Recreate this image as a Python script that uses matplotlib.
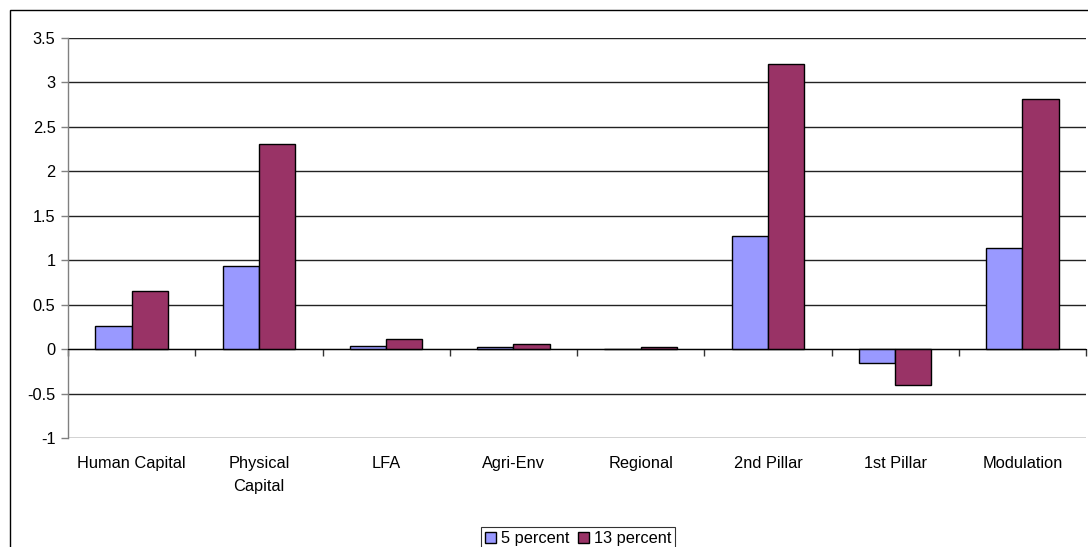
import matplotlib
matplotlib.use("Agg")
import matplotlib.pyplot as plt
from matplotlib.patches import Rectangle
import numpy as np

categories = ["Human Capital", "Physical\nCapital", "LFA", "Agri-Env", "Regional",
              "2nd Pillar", "1st Pillar", "Modulation"]
five_percent = [0.26, 0.93, 0.04, 0.02, 0.00, 1.27, -0.16, 1.14]
thirteen_percent = [0.65, 2.31, 0.11, 0.06, 0.02, 3.21, -0.40, 2.81]
series_labels = ["5 percent", "13 percent"]
y_ticks = [-1, -0.5, 0, 0.5, 1, 1.5, 2, 2.5, 3, 3.5]
y_ticklabels = ["-1", "-0.5", "0", "0.5", "1", "1.5", "2", "2.5", "3", "3.5"]

plt.rcParams["font.family"] = ["Liberation Sans", "DejaVu Sans"]
FS = 11.8

W, H = 1088, 547
fig = plt.figure(figsize=(W / 100, H / 100), dpi=100)
fig.patch.set_facecolor("white")

# outer chart frame
fig.add_artist(Rectangle((10 / W, -0.1), 1.2, 1 - 10 / H + 0.1,
                         transform=fig.transFigure, fill=False,
                         edgecolor="black", linewidth=1.0))

ax = fig.add_axes([68 / W, 1 - 438 / H, (1086 - 68) / W, 400 / H])
x = np.arange(len(categories))
bw = 1 / 3.5

ax.bar(x - bw / 2, five_percent, width=bw, color="#9999FF", edgecolor="black",
       linewidth=1.0, label=series_labels[0], zorder=3)
ax.bar(x + bw / 2, thirteen_percent, width=bw, color="#993366", edgecolor="black",
       linewidth=1.0, label=series_labels[1], zorder=3)

ax.set_xlim(-0.5, len(categories) - 0.5)
ax.set_ylim(-1, 3.5)
ax.set_yticks(y_ticks)
ax.set_yticklabels(y_ticklabels, fontsize=FS)
for yv in y_ticks:
    ax.axhline(yv, color="#222222" if yv != 0 else "black", linewidth=1.0, zorder=1)

for s in ["top", "right"]:
    ax.spines[s].set_visible(False)
ax.spines["left"].set_color("#808080")
ax.spines["left"].set_linewidth(1.0)
ax.spines["bottom"].set_position(("data", 0))
ax.spines["bottom"].set_color("black")
ax.spines["bottom"].set_zorder(4)

ax.set_xticks(np.arange(len(categories) + 1) - 0.5)
ax.tick_params(axis="x", length=5, width=1, color="#333333", labelbottom=False,
               direction="out")
ax.tick_params(axis="y", length=5, width=1, color="#808080", pad=4)

trans = matplotlib.transforms.blended_transform_factory(ax.transData, ax.transAxes)
for xi, lab in zip(x, categories):
    ax.text(xi, -0.045, lab, transform=trans, ha="center", va="top", fontsize=FS,
            linespacing=1.7)

leg = fig.legend(loc="upper center", bbox_to_anchor=(578 / W, 1 - 527 / H),
                 ncol=2, fontsize=FS, frameon=True, fancybox=False,
                 edgecolor="black", handlelength=0.7, handleheight=0.7,
                 handletextpad=0.3, columnspacing=0.5, borderpad=0.25,
                 borderaxespad=0)
leg.get_frame().set_linewidth(0.8)

fig.savefig("out.png", dpi=100, facecolor="white")
